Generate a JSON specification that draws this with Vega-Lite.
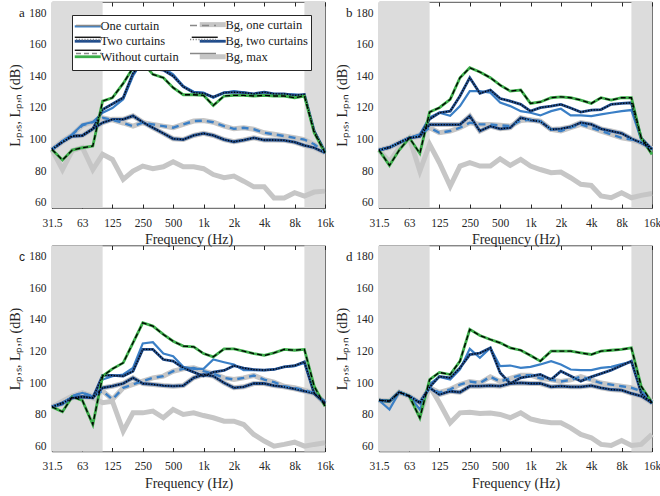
{
"$schema":"https://vega.github.io/schema/vega-lite/v6.json",
"padding":{"left":8,"top":1,"right":5,"bottom":5},
"config":{
"font":"Liberation Serif",
"view":{"stroke":"#262626","strokeWidth":0.8},
"axis":{"grid":false,"domain":false,"labelFont":"Liberation Serif","labelFontSize":11.5,"labelColor":"#262626","tickColor":"#262626","tickSize":-4,"labelPadding":10,"titleFont":"Liberation Serif","titleFontSize":14,"titleFontWeight":"normal","titleColor":"#262626"},
"axisX":{"labelPadding":13,"titlePadding":4},
"axisY":{"titlePadding":6}
},
"datasets":{"d":[
{"p":"a","s":"O","f":31.5,"v":93.7},{"p":"a","s":"O","f":40,"v":99},{"p":"a","s":"O","f":50,"v":103.3},{"p":"a","s":"O","f":63,"v":109.6},{"p":"a","s":"O","f":80,"v":111.1},{"p":"a","s":"O","f":100,"v":117},{"p":"a","s":"O","f":125,"v":120},{"p":"a","s":"O","f":160,"v":125.5},{"p":"a","s":"O","f":200,"v":140.3},{"p":"a","s":"O","f":250,"v":150.4},{"p":"a","s":"O","f":315,"v":146.2},{"p":"a","s":"O","f":400,"v":145.5},{"p":"a","s":"O","f":500,"v":141.3},{"p":"a","s":"O","f":630,"v":133.9},{"p":"a","s":"O","f":800,"v":130.3},{"p":"a","s":"O","f":1000,"v":129.7},{"p":"a","s":"O","f":1250,"v":126.5},{"p":"a","s":"O","f":1600,"v":129.7},{"p":"a","s":"O","f":2000,"v":130.7},{"p":"a","s":"O","f":2500,"v":130},{"p":"a","s":"O","f":3150,"v":128.6},{"p":"a","s":"O","f":4000,"v":130},{"p":"a","s":"O","f":5000,"v":128.6},{"p":"a","s":"O","f":6300,"v":128.6},{"p":"a","s":"O","f":8000,"v":128.6},{"p":"a","s":"O","f":10000,"v":127.6},{"p":"a","s":"O","f":12500,"v":105.4},{"p":"a","s":"O","f":16000,"v":92.7},
{"p":"a","s":"T","f":31.5,"v":93.7},{"p":"a","s":"T","f":40,"v":98.5},{"p":"a","s":"T","f":50,"v":102.2},{"p":"a","s":"T","f":63,"v":102.5},{"p":"a","s":"T","f":80,"v":106.8},{"p":"a","s":"T","f":100,"v":119},{"p":"a","s":"T","f":125,"v":122.5},{"p":"a","s":"T","f":160,"v":126.5},{"p":"a","s":"T","f":200,"v":141.9},{"p":"a","s":"T","f":250,"v":148.7},{"p":"a","s":"T","f":315,"v":144.9},{"p":"a","s":"T","f":400,"v":144},{"p":"a","s":"T","f":500,"v":140.3},{"p":"a","s":"T","f":630,"v":133.5},{"p":"a","s":"T","f":800,"v":129.7},{"p":"a","s":"T","f":1000,"v":129.3},{"p":"a","s":"T","f":1250,"v":127},{"p":"a","s":"T","f":1600,"v":129.7},{"p":"a","s":"T","f":2000,"v":130},{"p":"a","s":"T","f":2500,"v":129.7},{"p":"a","s":"T","f":3150,"v":129},{"p":"a","s":"T","f":4000,"v":130},{"p":"a","s":"T","f":5000,"v":129},{"p":"a","s":"T","f":6300,"v":129},{"p":"a","s":"T","f":8000,"v":128},{"p":"a","s":"T","f":10000,"v":128.6},{"p":"a","s":"T","f":12500,"v":105.4},{"p":"a","s":"T","f":16000,"v":92},
{"p":"a","s":"W","f":31.5,"v":93.7},{"p":"a","s":"W","f":40,"v":87},{"p":"a","s":"W","f":50,"v":93.3},{"p":"a","s":"W","f":63,"v":94.8},{"p":"a","s":"W","f":80,"v":95.9},{"p":"a","s":"W","f":100,"v":124.4},{"p":"a","s":"W","f":125,"v":126.5},{"p":"a","s":"W","f":160,"v":135.6},{"p":"a","s":"W","f":200,"v":145.5},{"p":"a","s":"W","f":250,"v":148.7},{"p":"a","s":"W","f":315,"v":141.3},{"p":"a","s":"W","f":400,"v":139.2},{"p":"a","s":"W","f":500,"v":132.9},{"p":"a","s":"W","f":630,"v":128.4},{"p":"a","s":"W","f":800,"v":128.4},{"p":"a","s":"W","f":1000,"v":128},{"p":"a","s":"W","f":1250,"v":121.6},{"p":"a","s":"W","f":1600,"v":127.6},{"p":"a","s":"W","f":2000,"v":128},{"p":"a","s":"W","f":2500,"v":128},{"p":"a","s":"W","f":3150,"v":127.6},{"p":"a","s":"W","f":4000,"v":128},{"p":"a","s":"W","f":5000,"v":127.6},{"p":"a","s":"W","f":6300,"v":127.6},{"p":"a","s":"W","f":8000,"v":126.5},{"p":"a","s":"W","f":10000,"v":127.6},{"p":"a","s":"W","f":12500,"v":104.3},{"p":"a","s":"W","f":16000,"v":91.6},
{"p":"a","s":"BO","f":31.5,"v":93.7},{"p":"a","s":"BO","f":40,"v":99},{"p":"a","s":"BO","f":50,"v":103},{"p":"a","s":"BO","f":63,"v":109},{"p":"a","s":"BO","f":80,"v":111},{"p":"a","s":"BO","f":100,"v":113.8},{"p":"a","s":"BO","f":125,"v":112.5},{"p":"a","s":"BO","f":160,"v":110.5},{"p":"a","s":"BO","f":200,"v":108.5},{"p":"a","s":"BO","f":250,"v":110.7},{"p":"a","s":"BO","f":315,"v":109.6},{"p":"a","s":"BO","f":400,"v":108.5},{"p":"a","s":"BO","f":500,"v":107.5},{"p":"a","s":"BO","f":630,"v":109.6},{"p":"a","s":"BO","f":800,"v":111.7},{"p":"a","s":"BO","f":1000,"v":112},{"p":"a","s":"BO","f":1250,"v":111},{"p":"a","s":"BO","f":1600,"v":108.5},{"p":"a","s":"BO","f":2000,"v":106.8},{"p":"a","s":"BO","f":2500,"v":107.5},{"p":"a","s":"BO","f":3150,"v":106.5},{"p":"a","s":"BO","f":4000,"v":104.3},{"p":"a","s":"BO","f":5000,"v":103.3},{"p":"a","s":"BO","f":6300,"v":102.2},{"p":"a","s":"BO","f":8000,"v":101.1},{"p":"a","s":"BO","f":10000,"v":100},{"p":"a","s":"BO","f":12500,"v":97},{"p":"a","s":"BO","f":16000,"v":91.6},
{"p":"a","s":"BT","f":31.5,"v":93.7},{"p":"a","s":"BT","f":40,"v":98.5},{"p":"a","s":"BT","f":50,"v":102.2},{"p":"a","s":"BT","f":63,"v":102.5},{"p":"a","s":"BT","f":80,"v":106.8},{"p":"a","s":"BT","f":100,"v":110.7},{"p":"a","s":"BT","f":125,"v":112.8},{"p":"a","s":"BT","f":160,"v":112.8},{"p":"a","s":"BT","f":200,"v":115},{"p":"a","s":"BT","f":250,"v":111},{"p":"a","s":"BT","f":315,"v":107.5},{"p":"a","s":"BT","f":400,"v":103.9},{"p":"a","s":"BT","f":500,"v":100.5},{"p":"a","s":"BT","f":630,"v":100},{"p":"a","s":"BT","f":800,"v":102.6},{"p":"a","s":"BT","f":1000,"v":103.9},{"p":"a","s":"BT","f":1250,"v":102.6},{"p":"a","s":"BT","f":1600,"v":100},{"p":"a","s":"BT","f":2000,"v":98.6},{"p":"a","s":"BT","f":2500,"v":99.7},{"p":"a","s":"BT","f":3150,"v":101.1},{"p":"a","s":"BT","f":4000,"v":99.7},{"p":"a","s":"BT","f":5000,"v":99.7},{"p":"a","s":"BT","f":6300,"v":99.5},{"p":"a","s":"BT","f":8000,"v":98.4},{"p":"a","s":"BT","f":10000,"v":96.3},{"p":"a","s":"BT","f":12500,"v":94.8},{"p":"a","s":"BT","f":16000,"v":91.6},
{"p":"a","s":"BM","f":31.5,"v":93.7},{"p":"a","s":"BM","f":40,"v":81},{"p":"a","s":"BM","f":50,"v":93},{"p":"a","s":"BM","f":63,"v":95},{"p":"a","s":"BM","f":80,"v":81},{"p":"a","s":"BM","f":100,"v":90.6},{"p":"a","s":"BM","f":125,"v":87.4},{"p":"a","s":"BM","f":160,"v":74.7},{"p":"a","s":"BM","f":200,"v":80},{"p":"a","s":"BM","f":250,"v":83.2},{"p":"a","s":"BM","f":315,"v":81.5},{"p":"a","s":"BM","f":400,"v":82.7},{"p":"a","s":"BM","f":500,"v":85.9},{"p":"a","s":"BM","f":630,"v":82.7},{"p":"a","s":"BM","f":800,"v":82.7},{"p":"a","s":"BM","f":1000,"v":81.5},{"p":"a","s":"BM","f":1250,"v":77.8},{"p":"a","s":"BM","f":1600,"v":75.8},{"p":"a","s":"BM","f":2000,"v":76.8},{"p":"a","s":"BM","f":2500,"v":73.6},{"p":"a","s":"BM","f":3150,"v":70},{"p":"a","s":"BM","f":4000,"v":70},{"p":"a","s":"BM","f":5000,"v":63},{"p":"a","s":"BM","f":6300,"v":63},{"p":"a","s":"BM","f":8000,"v":66.3},{"p":"a","s":"BM","f":10000,"v":64.2},{"p":"a","s":"BM","f":12500,"v":66.7},{"p":"a","s":"BM","f":16000,"v":67.3},
{"p":"b","s":"O","f":31.5,"v":93.3},{"p":"b","s":"O","f":40,"v":95},{"p":"b","s":"O","f":50,"v":98},{"p":"b","s":"O","f":63,"v":101},{"p":"b","s":"O","f":80,"v":103.3},{"p":"b","s":"O","f":100,"v":114},{"p":"b","s":"O","f":125,"v":117},{"p":"b","s":"O","f":160,"v":115},{"p":"b","s":"O","f":200,"v":121.2},{"p":"b","s":"O","f":250,"v":130.7},{"p":"b","s":"O","f":315,"v":130.7},{"p":"b","s":"O","f":400,"v":129.7},{"p":"b","s":"O","f":500,"v":123.5},{"p":"b","s":"O","f":630,"v":121.2},{"p":"b","s":"O","f":800,"v":118},{"p":"b","s":"O","f":1000,"v":117},{"p":"b","s":"O","f":1250,"v":115.3},{"p":"b","s":"O","f":1600,"v":118},{"p":"b","s":"O","f":2000,"v":119.5},{"p":"b","s":"O","f":2500,"v":115.3},{"p":"b","s":"O","f":3150,"v":115.3},{"p":"b","s":"O","f":4000,"v":114.9},{"p":"b","s":"O","f":5000,"v":116},{"p":"b","s":"O","f":6300,"v":117},{"p":"b","s":"O","f":8000,"v":118},{"p":"b","s":"O","f":10000,"v":118.7},{"p":"b","s":"O","f":12500,"v":100},{"p":"b","s":"O","f":16000,"v":93.5},
{"p":"b","s":"T","f":31.5,"v":93.3},{"p":"b","s":"T","f":40,"v":95},{"p":"b","s":"T","f":50,"v":98},{"p":"b","s":"T","f":63,"v":101},{"p":"b","s":"T","f":80,"v":102.2},{"p":"b","s":"T","f":100,"v":113},{"p":"b","s":"T","f":125,"v":117},{"p":"b","s":"T","f":160,"v":118},{"p":"b","s":"T","f":200,"v":127.6},{"p":"b","s":"T","f":250,"v":139.2},{"p":"b","s":"T","f":315,"v":129.3},{"p":"b","s":"T","f":400,"v":131.4},{"p":"b","s":"T","f":500,"v":126},{"p":"b","s":"T","f":630,"v":124.4},{"p":"b","s":"T","f":800,"v":122.3},{"p":"b","s":"T","f":1000,"v":118},{"p":"b","s":"T","f":1250,"v":120.2},{"p":"b","s":"T","f":1600,"v":121.2},{"p":"b","s":"T","f":2000,"v":122.3},{"p":"b","s":"T","f":2500,"v":120},{"p":"b","s":"T","f":3150,"v":117.4},{"p":"b","s":"T","f":4000,"v":118.7},{"p":"b","s":"T","f":5000,"v":119},{"p":"b","s":"T","f":6300,"v":122.3},{"p":"b","s":"T","f":8000,"v":122.9},{"p":"b","s":"T","f":10000,"v":123.3},{"p":"b","s":"T","f":12500,"v":101},{"p":"b","s":"T","f":16000,"v":93.7},
{"p":"b","s":"W","f":31.5,"v":93.3},{"p":"b","s":"W","f":40,"v":83.6},{"p":"b","s":"W","f":50,"v":93.3},{"p":"b","s":"W","f":63,"v":101.1},{"p":"b","s":"W","f":80,"v":91.2},{"p":"b","s":"W","f":100,"v":117.4},{"p":"b","s":"W","f":125,"v":120.2},{"p":"b","s":"W","f":160,"v":125.5},{"p":"b","s":"W","f":200,"v":139.2},{"p":"b","s":"W","f":250,"v":145.5},{"p":"b","s":"W","f":315,"v":142.8},{"p":"b","s":"W","f":400,"v":139.2},{"p":"b","s":"W","f":500,"v":134.5},{"p":"b","s":"W","f":630,"v":130.7},{"p":"b","s":"W","f":800,"v":131.4},{"p":"b","s":"W","f":1000,"v":122.9},{"p":"b","s":"W","f":1250,"v":123.8},{"p":"b","s":"W","f":1600,"v":126.5},{"p":"b","s":"W","f":2000,"v":127.1},{"p":"b","s":"W","f":2500,"v":126.5},{"p":"b","s":"W","f":3150,"v":125},{"p":"b","s":"W","f":4000,"v":122.9},{"p":"b","s":"W","f":5000,"v":126.5},{"p":"b","s":"W","f":6300,"v":125},{"p":"b","s":"W","f":8000,"v":126.5},{"p":"b","s":"W","f":10000,"v":126.5},{"p":"b","s":"W","f":12500,"v":101},{"p":"b","s":"W","f":16000,"v":90.6},
{"p":"b","s":"BO","f":31.5,"v":93.3},{"p":"b","s":"BO","f":40,"v":95},{"p":"b","s":"BO","f":50,"v":98},{"p":"b","s":"BO","f":63,"v":101},{"p":"b","s":"BO","f":80,"v":103},{"p":"b","s":"BO","f":100,"v":107.5},{"p":"b","s":"BO","f":125,"v":104.3},{"p":"b","s":"BO","f":160,"v":105.4},{"p":"b","s":"BO","f":200,"v":107.5},{"p":"b","s":"BO","f":250,"v":110.7},{"p":"b","s":"BO","f":315,"v":109.6},{"p":"b","s":"BO","f":400,"v":109.6},{"p":"b","s":"BO","f":500,"v":109},{"p":"b","s":"BO","f":630,"v":108.5},{"p":"b","s":"BO","f":800,"v":112},{"p":"b","s":"BO","f":1000,"v":112.5},{"p":"b","s":"BO","f":1250,"v":111.7},{"p":"b","s":"BO","f":1600,"v":106.4},{"p":"b","s":"BO","f":2000,"v":105.4},{"p":"b","s":"BO","f":2500,"v":107.5},{"p":"b","s":"BO","f":3150,"v":109.6},{"p":"b","s":"BO","f":4000,"v":107.5},{"p":"b","s":"BO","f":5000,"v":105.4},{"p":"b","s":"BO","f":6300,"v":103.3},{"p":"b","s":"BO","f":8000,"v":101.1},{"p":"b","s":"BO","f":10000,"v":100},{"p":"b","s":"BO","f":12500,"v":98},{"p":"b","s":"BO","f":16000,"v":94.2},
{"p":"b","s":"BT","f":31.5,"v":93.3},{"p":"b","s":"BT","f":40,"v":95},{"p":"b","s":"BT","f":50,"v":98},{"p":"b","s":"BT","f":63,"v":101},{"p":"b","s":"BT","f":80,"v":102},{"p":"b","s":"BT","f":100,"v":109.5},{"p":"b","s":"BT","f":125,"v":109.5},{"p":"b","s":"BT","f":160,"v":109.5},{"p":"b","s":"BT","f":200,"v":109.5},{"p":"b","s":"BT","f":250,"v":114.9},{"p":"b","s":"BT","f":315,"v":105.4},{"p":"b","s":"BT","f":400,"v":108.5},{"p":"b","s":"BT","f":500,"v":106.8},{"p":"b","s":"BT","f":630,"v":107.5},{"p":"b","s":"BT","f":800,"v":113.8},{"p":"b","s":"BT","f":1000,"v":112.3},{"p":"b","s":"BT","f":1250,"v":111.5},{"p":"b","s":"BT","f":1600,"v":106.4},{"p":"b","s":"BT","f":2000,"v":106.8},{"p":"b","s":"BT","f":2500,"v":108},{"p":"b","s":"BT","f":3150,"v":110.7},{"p":"b","s":"BT","f":4000,"v":109.6},{"p":"b","s":"BT","f":5000,"v":106.8},{"p":"b","s":"BT","f":6300,"v":105.4},{"p":"b","s":"BT","f":8000,"v":103.9},{"p":"b","s":"BT","f":10000,"v":100.5},{"p":"b","s":"BT","f":12500,"v":98},{"p":"b","s":"BT","f":16000,"v":94.2},
{"p":"b","s":"BM","f":31.5,"v":93.3},{"p":"b","s":"BM","f":40,"v":86},{"p":"b","s":"BM","f":50,"v":94.8},{"p":"b","s":"BM","f":63,"v":101},{"p":"b","s":"BM","f":80,"v":80},{"p":"b","s":"BM","f":100,"v":96.9},{"p":"b","s":"BM","f":125,"v":85.3},{"p":"b","s":"BM","f":160,"v":70.5},{"p":"b","s":"BM","f":200,"v":83.2},{"p":"b","s":"BM","f":250,"v":85.3},{"p":"b","s":"BM","f":315,"v":83.2},{"p":"b","s":"BM","f":400,"v":83.2},{"p":"b","s":"BM","f":500,"v":87.8},{"p":"b","s":"BM","f":630,"v":83.6},{"p":"b","s":"BM","f":800,"v":87.4},{"p":"b","s":"BM","f":1000,"v":83.2},{"p":"b","s":"BM","f":1250,"v":81},{"p":"b","s":"BM","f":1600,"v":79},{"p":"b","s":"BM","f":2000,"v":79.4},{"p":"b","s":"BM","f":2500,"v":75.8},{"p":"b","s":"BM","f":3150,"v":71.6},{"p":"b","s":"BM","f":4000,"v":70.9},{"p":"b","s":"BM","f":5000,"v":64.2},{"p":"b","s":"BM","f":6300,"v":63.1},{"p":"b","s":"BM","f":8000,"v":66.3},{"p":"b","s":"BM","f":10000,"v":63.1},{"p":"b","s":"BM","f":12500,"v":64.6},{"p":"b","s":"BM","f":16000,"v":65.8},
{"p":"c","s":"O","f":31.5,"v":84.9},{"p":"c","s":"O","f":40,"v":86.4},{"p":"c","s":"O","f":50,"v":91.7},{"p":"c","s":"O","f":63,"v":93.8},{"p":"c","s":"O","f":80,"v":91.3},{"p":"c","s":"O","f":100,"v":102.2},{"p":"c","s":"O","f":125,"v":104.4},{"p":"c","s":"O","f":160,"v":105.4},{"p":"c","s":"O","f":200,"v":109.6},{"p":"c","s":"O","f":250,"v":125.1},{"p":"c","s":"O","f":315,"v":125.9},{"p":"c","s":"O","f":400,"v":118.7},{"p":"c","s":"O","f":500,"v":117},{"p":"c","s":"O","f":630,"v":110.3},{"p":"c","s":"O","f":800,"v":109},{"p":"c","s":"O","f":1000,"v":109},{"p":"c","s":"O","f":1250,"v":114.9},{"p":"c","s":"O","f":1600,"v":113.2},{"p":"c","s":"O","f":2000,"v":111.8},{"p":"c","s":"O","f":2500,"v":108.2},{"p":"c","s":"O","f":3150,"v":108.2},{"p":"c","s":"O","f":4000,"v":108.2},{"p":"c","s":"O","f":5000,"v":108.6},{"p":"c","s":"O","f":6300,"v":110.3},{"p":"c","s":"O","f":8000,"v":110.7},{"p":"c","s":"O","f":10000,"v":112.8},{"p":"c","s":"O","f":12500,"v":93.8},{"p":"c","s":"O","f":16000,"v":88.5},
{"p":"c","s":"T","f":31.5,"v":84.9},{"p":"c","s":"T","f":40,"v":87.5},{"p":"c","s":"T","f":50,"v":90.6},{"p":"c","s":"T","f":63,"v":91.3},{"p":"c","s":"T","f":80,"v":90.6},{"p":"c","s":"T","f":100,"v":104.8},{"p":"c","s":"T","f":125,"v":104.8},{"p":"c","s":"T","f":160,"v":104.4},{"p":"c","s":"T","f":200,"v":107.5},{"p":"c","s":"T","f":250,"v":121.3},{"p":"c","s":"T","f":315,"v":121.3},{"p":"c","s":"T","f":400,"v":114.9},{"p":"c","s":"T","f":500,"v":113.9},{"p":"c","s":"T","f":630,"v":109.6},{"p":"c","s":"T","f":800,"v":106.9},{"p":"c","s":"T","f":1000,"v":104.4},{"p":"c","s":"T","f":1250,"v":106.9},{"p":"c","s":"T","f":1600,"v":108},{"p":"c","s":"T","f":2000,"v":111},{"p":"c","s":"T","f":2500,"v":109.5},{"p":"c","s":"T","f":3150,"v":108.5},{"p":"c","s":"T","f":4000,"v":108.2},{"p":"c","s":"T","f":5000,"v":108.6},{"p":"c","s":"T","f":6300,"v":110.3},{"p":"c","s":"T","f":8000,"v":111},{"p":"c","s":"T","f":10000,"v":113.5},{"p":"c","s":"T","f":12500,"v":93.4},{"p":"c","s":"T","f":16000,"v":87.5},
{"p":"c","s":"W","f":31.5,"v":84.9},{"p":"c","s":"W","f":40,"v":81.8},{"p":"c","s":"W","f":50,"v":91.3},{"p":"c","s":"W","f":63,"v":89},{"p":"c","s":"W","f":80,"v":73.7},{"p":"c","s":"W","f":100,"v":104.4},{"p":"c","s":"W","f":125,"v":109},{"p":"c","s":"W","f":160,"v":112.8},{"p":"c","s":"W","f":200,"v":125.5},{"p":"c","s":"W","f":250,"v":138.2},{"p":"c","s":"W","f":315,"v":136.1},{"p":"c","s":"W","f":400,"v":130.8},{"p":"c","s":"W","f":500,"v":126.5},{"p":"c","s":"W","f":630,"v":123.4},{"p":"c","s":"W","f":800,"v":123},{"p":"c","s":"W","f":1000,"v":118.7},{"p":"c","s":"W","f":1250,"v":116.6},{"p":"c","s":"W","f":1600,"v":121.7},{"p":"c","s":"W","f":2000,"v":121.7},{"p":"c","s":"W","f":2500,"v":120.2},{"p":"c","s":"W","f":3150,"v":118.7},{"p":"c","s":"W","f":4000,"v":117.5},{"p":"c","s":"W","f":5000,"v":119.1},{"p":"c","s":"W","f":6300,"v":121.3},{"p":"c","s":"W","f":8000,"v":120.8},{"p":"c","s":"W","f":10000,"v":121.3},{"p":"c","s":"W","f":12500,"v":98},{"p":"c","s":"W","f":16000,"v":85.3},
{"p":"c","s":"BO","f":31.5,"v":84.9},{"p":"c","s":"BO","f":40,"v":87},{"p":"c","s":"BO","f":50,"v":91.7},{"p":"c","s":"BO","f":63,"v":93.8},{"p":"c","s":"BO","f":80,"v":91.7},{"p":"c","s":"BO","f":100,"v":95},{"p":"c","s":"BO","f":125,"v":89.6},{"p":"c","s":"BO","f":160,"v":97},{"p":"c","s":"BO","f":200,"v":99.1},{"p":"c","s":"BO","f":250,"v":101.2},{"p":"c","s":"BO","f":315,"v":103.3},{"p":"c","s":"BO","f":400,"v":104.4},{"p":"c","s":"BO","f":500,"v":107.5},{"p":"c","s":"BO","f":630,"v":109},{"p":"c","s":"BO","f":800,"v":109.6},{"p":"c","s":"BO","f":1000,"v":107.5},{"p":"c","s":"BO","f":1250,"v":106},{"p":"c","s":"BO","f":1600,"v":103.3},{"p":"c","s":"BO","f":2000,"v":102.2},{"p":"c","s":"BO","f":2500,"v":103.3},{"p":"c","s":"BO","f":3150,"v":104.8},{"p":"c","s":"BO","f":4000,"v":102.2},{"p":"c","s":"BO","f":5000,"v":100.6},{"p":"c","s":"BO","f":6300,"v":98},{"p":"c","s":"BO","f":8000,"v":97},{"p":"c","s":"BO","f":10000,"v":95.5},{"p":"c","s":"BO","f":12500,"v":93.8},{"p":"c","s":"BO","f":16000,"v":87.5},
{"p":"c","s":"BT","f":31.5,"v":84.9},{"p":"c","s":"BT","f":40,"v":87},{"p":"c","s":"BT","f":50,"v":90.6},{"p":"c","s":"BT","f":63,"v":91.3},{"p":"c","s":"BT","f":80,"v":90.6},{"p":"c","s":"BT","f":100,"v":97},{"p":"c","s":"BT","f":125,"v":98},{"p":"c","s":"BT","f":160,"v":99.7},{"p":"c","s":"BT","f":200,"v":103.3},{"p":"c","s":"BT","f":250,"v":99.7},{"p":"c","s":"BT","f":315,"v":99.1},{"p":"c","s":"BT","f":400,"v":98.4},{"p":"c","s":"BT","f":500,"v":98},{"p":"c","s":"BT","f":630,"v":98.4},{"p":"c","s":"BT","f":800,"v":103.3},{"p":"c","s":"BT","f":1000,"v":105.4},{"p":"c","s":"BT","f":1250,"v":104.4},{"p":"c","s":"BT","f":1600,"v":100.1},{"p":"c","s":"BT","f":2000,"v":97},{"p":"c","s":"BT","f":2500,"v":97.6},{"p":"c","s":"BT","f":3150,"v":99.7},{"p":"c","s":"BT","f":4000,"v":99.7},{"p":"c","s":"BT","f":5000,"v":98.4},{"p":"c","s":"BT","f":6300,"v":97.6},{"p":"c","s":"BT","f":8000,"v":96.3},{"p":"c","s":"BT","f":10000,"v":94.9},{"p":"c","s":"BT","f":12500,"v":93.4},{"p":"c","s":"BT","f":16000,"v":87},
{"p":"c","s":"BM","f":31.5,"v":84.9},{"p":"c","s":"BM","f":40,"v":88.5},{"p":"c","s":"BM","f":50,"v":91.7},{"p":"c","s":"BM","f":63,"v":93.8},{"p":"c","s":"BM","f":80,"v":90.6},{"p":"c","s":"BM","f":100,"v":87.5},{"p":"c","s":"BM","f":125,"v":88.5},{"p":"c","s":"BM","f":160,"v":69.5},{"p":"c","s":"BM","f":200,"v":81.1},{"p":"c","s":"BM","f":250,"v":81.1},{"p":"c","s":"BM","f":315,"v":82.2},{"p":"c","s":"BM","f":400,"v":78},{"p":"c","s":"BM","f":500,"v":83.2},{"p":"c","s":"BM","f":630,"v":80.1},{"p":"c","s":"BM","f":800,"v":81.1},{"p":"c","s":"BM","f":1000,"v":79.4},{"p":"c","s":"BM","f":1250,"v":78},{"p":"c","s":"BM","f":1600,"v":75.8},{"p":"c","s":"BM","f":2000,"v":75.8},{"p":"c","s":"BM","f":2500,"v":73.7},{"p":"c","s":"BM","f":3150,"v":67.4},{"p":"c","s":"BM","f":4000,"v":63.2},{"p":"c","s":"BM","f":5000,"v":60},{"p":"c","s":"BM","f":6300,"v":61.1},{"p":"c","s":"BM","f":8000,"v":62.5},{"p":"c","s":"BM","f":10000,"v":60},{"p":"c","s":"BM","f":12500,"v":61.1},{"p":"c","s":"BM","f":16000,"v":62.1},
{"p":"d","s":"O","f":31.5,"v":89.1},{"p":"d","s":"O","f":40,"v":83.2},{"p":"d","s":"O","f":50,"v":94.2},{"p":"d","s":"O","f":63,"v":91.7},{"p":"d","s":"O","f":80,"v":83.2},{"p":"d","s":"O","f":100,"v":99.5},{"p":"d","s":"O","f":125,"v":103.9},{"p":"d","s":"O","f":160,"v":102.2},{"p":"d","s":"O","f":200,"v":108.6},{"p":"d","s":"O","f":250,"v":121.7},{"p":"d","s":"O","f":315,"v":116},{"p":"d","s":"O","f":400,"v":122.3},{"p":"d","s":"O","f":500,"v":110.7},{"p":"d","s":"O","f":630,"v":111.1},{"p":"d","s":"O","f":800,"v":109.6},{"p":"d","s":"O","f":1000,"v":110.3},{"p":"d","s":"O","f":1250,"v":111.8},{"p":"d","s":"O","f":1600,"v":113.9},{"p":"d","s":"O","f":2000,"v":111.8},{"p":"d","s":"O","f":2500,"v":108.6},{"p":"d","s":"O","f":3150,"v":108.2},{"p":"d","s":"O","f":4000,"v":108.2},{"p":"d","s":"O","f":5000,"v":109.6},{"p":"d","s":"O","f":6300,"v":110.3},{"p":"d","s":"O","f":8000,"v":112},{"p":"d","s":"O","f":10000,"v":113.5},{"p":"d","s":"O","f":12500,"v":94.9},{"p":"d","s":"O","f":16000,"v":87.5},
{"p":"d","s":"T","f":31.5,"v":89.1},{"p":"d","s":"T","f":40,"v":88.5},{"p":"d","s":"T","f":50,"v":94.2},{"p":"d","s":"T","f":63,"v":91.7},{"p":"d","s":"T","f":80,"v":87.5},{"p":"d","s":"T","f":100,"v":97.5},{"p":"d","s":"T","f":125,"v":104.2},{"p":"d","s":"T","f":160,"v":103.3},{"p":"d","s":"T","f":200,"v":109.6},{"p":"d","s":"T","f":250,"v":118},{"p":"d","s":"T","f":315,"v":119},{"p":"d","s":"T","f":400,"v":122.3},{"p":"d","s":"T","f":500,"v":106.5},{"p":"d","s":"T","f":630,"v":99.7},{"p":"d","s":"T","f":800,"v":103.3},{"p":"d","s":"T","f":1000,"v":104.4},{"p":"d","s":"T","f":1250,"v":105.4},{"p":"d","s":"T","f":1600,"v":102.2},{"p":"d","s":"T","f":2000,"v":107.5},{"p":"d","s":"T","f":2500,"v":104.4},{"p":"d","s":"T","f":3150,"v":101.2},{"p":"d","s":"T","f":4000,"v":103.9},{"p":"d","s":"T","f":5000,"v":106},{"p":"d","s":"T","f":6300,"v":108.2},{"p":"d","s":"T","f":8000,"v":111.1},{"p":"d","s":"T","f":10000,"v":113.9},{"p":"d","s":"T","f":12500,"v":93.8},{"p":"d","s":"T","f":16000,"v":87},
{"p":"d","s":"W","f":31.5,"v":89.1},{"p":"d","s":"W","f":40,"v":88.5},{"p":"d","s":"W","f":50,"v":94.2},{"p":"d","s":"W","f":63,"v":91.7},{"p":"d","s":"W","f":80,"v":77.9},{"p":"d","s":"W","f":100,"v":102.2},{"p":"d","s":"W","f":125,"v":106.7},{"p":"d","s":"W","f":160,"v":105.4},{"p":"d","s":"W","f":200,"v":113.9},{"p":"d","s":"W","f":250,"v":134},{"p":"d","s":"W","f":315,"v":130.1},{"p":"d","s":"W","f":400,"v":127.6},{"p":"d","s":"W","f":500,"v":125.5},{"p":"d","s":"W","f":630,"v":122.3},{"p":"d","s":"W","f":800,"v":120.8},{"p":"d","s":"W","f":1000,"v":117.5},{"p":"d","s":"W","f":1250,"v":113.9},{"p":"d","s":"W","f":1600,"v":120.2},{"p":"d","s":"W","f":2000,"v":120.2},{"p":"d","s":"W","f":2500,"v":120.2},{"p":"d","s":"W","f":3150,"v":119.1},{"p":"d","s":"W","f":4000,"v":118.1},{"p":"d","s":"W","f":5000,"v":120.2},{"p":"d","s":"W","f":6300,"v":120.8},{"p":"d","s":"W","f":8000,"v":121.3},{"p":"d","s":"W","f":10000,"v":122.3},{"p":"d","s":"W","f":12500,"v":98},{"p":"d","s":"W","f":16000,"v":87.5},
{"p":"d","s":"BO","f":31.5,"v":89.1},{"p":"d","s":"BO","f":40,"v":88.5},{"p":"d","s":"BO","f":50,"v":94.2},{"p":"d","s":"BO","f":63,"v":91.7},{"p":"d","s":"BO","f":80,"v":87.5},{"p":"d","s":"BO","f":100,"v":97},{"p":"d","s":"BO","f":125,"v":94},{"p":"d","s":"BO","f":160,"v":96},{"p":"d","s":"BO","f":200,"v":99},{"p":"d","s":"BO","f":250,"v":101},{"p":"d","s":"BO","f":315,"v":100},{"p":"d","s":"BO","f":400,"v":104},{"p":"d","s":"BO","f":500,"v":101},{"p":"d","s":"BO","f":630,"v":103},{"p":"d","s":"BO","f":800,"v":105},{"p":"d","s":"BO","f":1000,"v":105},{"p":"d","s":"BO","f":1250,"v":103},{"p":"d","s":"BO","f":1600,"v":102},{"p":"d","s":"BO","f":2000,"v":101},{"p":"d","s":"BO","f":2500,"v":102},{"p":"d","s":"BO","f":3150,"v":104},{"p":"d","s":"BO","f":4000,"v":102},{"p":"d","s":"BO","f":5000,"v":100},{"p":"d","s":"BO","f":6300,"v":99},{"p":"d","s":"BO","f":8000,"v":98},{"p":"d","s":"BO","f":10000,"v":97},{"p":"d","s":"BO","f":12500,"v":95},{"p":"d","s":"BO","f":16000,"v":88},
{"p":"d","s":"BT","f":31.5,"v":89.1},{"p":"d","s":"BT","f":40,"v":88.5},{"p":"d","s":"BT","f":50,"v":94.2},{"p":"d","s":"BT","f":63,"v":91.7},{"p":"d","s":"BT","f":80,"v":87.5},{"p":"d","s":"BT","f":100,"v":97},{"p":"d","s":"BT","f":125,"v":92.7},{"p":"d","s":"BT","f":160,"v":94.8},{"p":"d","s":"BT","f":200,"v":94.2},{"p":"d","s":"BT","f":250,"v":98},{"p":"d","s":"BT","f":315,"v":98},{"p":"d","s":"BT","f":400,"v":98.4},{"p":"d","s":"BT","f":500,"v":98},{"p":"d","s":"BT","f":630,"v":99.7},{"p":"d","s":"BT","f":800,"v":100.1},{"p":"d","s":"BT","f":1000,"v":99.7},{"p":"d","s":"BT","f":1250,"v":99.7},{"p":"d","s":"BT","f":1600,"v":97.6},{"p":"d","s":"BT","f":2000,"v":98},{"p":"d","s":"BT","f":2500,"v":97.6},{"p":"d","s":"BT","f":3150,"v":97.6},{"p":"d","s":"BT","f":4000,"v":98.4},{"p":"d","s":"BT","f":5000,"v":97},{"p":"d","s":"BT","f":6300,"v":95.9},{"p":"d","s":"BT","f":8000,"v":95.5},{"p":"d","s":"BT","f":10000,"v":93.4},{"p":"d","s":"BT","f":12500,"v":91.7},{"p":"d","s":"BT","f":16000,"v":87.5},
{"p":"d","s":"BM","f":31.5,"v":89.1},{"p":"d","s":"BM","f":40,"v":86},{"p":"d","s":"BM","f":50,"v":94.2},{"p":"d","s":"BM","f":63,"v":91.7},{"p":"d","s":"BM","f":80,"v":80},{"p":"d","s":"BM","f":100,"v":98},{"p":"d","s":"BM","f":125,"v":87.5},{"p":"d","s":"BM","f":160,"v":74.8},{"p":"d","s":"BM","f":200,"v":81.1},{"p":"d","s":"BM","f":250,"v":81.5},{"p":"d","s":"BM","f":315,"v":80.7},{"p":"d","s":"BM","f":400,"v":81},{"p":"d","s":"BM","f":500,"v":80.1},{"p":"d","s":"BM","f":630,"v":78},{"p":"d","s":"BM","f":800,"v":81.1},{"p":"d","s":"BM","f":1000,"v":77.3},{"p":"d","s":"BM","f":1250,"v":75.8},{"p":"d","s":"BM","f":1600,"v":74.8},{"p":"d","s":"BM","f":2000,"v":74.8},{"p":"d","s":"BM","f":2500,"v":71.6},{"p":"d","s":"BM","f":3150,"v":67.4},{"p":"d","s":"BM","f":4000,"v":65.3},{"p":"d","s":"BM","f":5000,"v":61.1},{"p":"d","s":"BM","f":6300,"v":60.4},{"p":"d","s":"BM","f":8000,"v":63.6},{"p":"d","s":"BM","f":10000,"v":60.4},{"p":"d","s":"BM","f":12500,"v":61.1},{"p":"d","s":"BM","f":16000,"v":67.4}
]},
"data":{"name":"d"},
"columns":2,
"bounds":"flush",
"spacing":{"row":37.5,"column":54},
"concat":[
{"width":273,"height":206,
"layer":[
{"data":{"values":[{"x1":31.5,"x2":100},{"x1":10000,"x2":16000}]},"mark":{"type":"rect","color":"#dcdcdc"},"encoding":{"x":{"field":"x1","type":"quantitative","scale":{"type":"log","domain":[31.5,16000],"nice":false},"axis":{"orient":"top","values":[31.5,63,125,250,500,1000,2000,4000,8000,16000],"labels":false,"title":null}},"x2":{"field":"x2"}}},
{"transform":[{"filter":"datum.p=='a'"}],
"encoding":{"x":{"field":"f","type":"quantitative","scale":{"type":"log","domain":[31.5,16000],"nice":false},"axis":{"orient":"bottom","values":[31.5,63,125,250,500,1000,2000,4000,8000,16000],"labelFlush":false,"labelExpr":"datum.value==31.5?'\u00a0\u00a0\u00a0\u00a0\u00a0\u00a031.5':datum.value>=1000?format(datum.value/1000,'d')+'k':format(datum.value,'~g')","title":"Frequency (Hz)"}},"y":{"field":"v","type":"quantitative","scale":{"domain":[56.6,187.2],"nice":false,"zero":false},"axis":{"values":[60,80,100,120,140,160,180],"title":"Lₚ,ₛ, Lₚ,ₙ (dB)"}}},
"layer":[
{"transform":[{"filter":"datum.s=='BM'||datum.s=='BO'"}],"mark":{"type":"line","strokeWidth":5},"encoding":{"color":{"field":"s","type":"nominal","scale":{"domain":["O","T","W","BO","BT","BM"],"range":["#3a7fc6","#214d8c","#3cae4a","#c6c6c6","#214d8c","#c6c6c6"]},"legend":{"orient":"none","legendX":20,"legendY":13,"direction":"vertical","columns":2,"title":null,"symbolType":"M-1,0H3","symbolSize":169,"labelFont":"Liberation Serif","labelFontSize":12.5,"labelColor":"#1a1a1a","labelOffset":13,"columnPadding":10,"rowPadding":-1.5,"padding":3,"fillColor":"white","strokeColor":"#262626","labelLimit":300,"labelExpr":"datum.value=='O'?'One curtain':datum.value=='T'?'Two curtains':datum.value=='W'?'Without curtain':datum.value=='BO'?'Bg, one curtain':datum.value=='BT'?'Bg, two curtains':'Bg, max'","encode":{"symbols":{"update":{"strokeWidth":{"signal":"datum.value=='BO'||datum.value=='BM'?5:datum.value=='O'?2.2:2.8"}}}}}}}},
{"transform":[{"filter":"datum.s=='BT'"}],"mark":{"type":"line","strokeWidth":5,"color":"#c6c6c6"},"encoding":{}},
{"transform":[{"filter":"datum.s=='O'"}],"mark":{"type":"line","strokeWidth":2.2},"encoding":{"color":{"field":"s","type":"nominal","legend":null}}},
{"transform":[{"filter":"datum.s=='T'||datum.s=='W'||datum.s=='BT'"}],"mark":{"type":"line","strokeWidth":2.8},"encoding":{"color":{"field":"s","type":"nominal","legend":null}}},
{"transform":[{"filter":"datum.s=='BO'"}],"mark":{"type":"line","strokeWidth":2.4,"color":"#3a7fc6","strokeDash":[7,5]},"encoding":{}},
{"mark":{"type":"line","strokeWidth":1.3},"encoding":{"stroke":{"field":"s","type":"nominal","sort":["O","T","W","BO","BT","BM"],"scale":{"range":["transparent","#000000","#000000","transparent","#000000","transparent"]},"legend":{"orient":"none","legendX":20,"legendY":13,"direction":"vertical","columns":2,"title":null,"symbolType":"M-1,0H3","symbolSize":169,"labelFont":"Liberation Serif","labelFontSize":12.5,"labelOffset":13,"columnPadding":82,"rowPadding":-1.5,"padding":3,"labelExpr":"''","encode":{"symbols":{"update":{"stroke":{"signal":"datum.value=='BO'?'#3a7fc6':(datum.value=='O'||datum.value=='BM')?'transparent':'#000000'"},"strokeWidth":{"signal":"datum.value=='BO'?2.4:1.3"}}}}}},"strokeDash":{"field":"s","type":"nominal","sort":["O","T","W","BO","BT","BM"],"scale":{"range":[[1,0],[1.2,1.6],[5,3],[7,5],[1.2,1.6],[1,0]]},"legend":{"orient":"none","legendX":20,"legendY":13,"direction":"vertical","columns":2,"title":null,"symbolType":"M-1,0H3","symbolSize":169,"labelFont":"Liberation Serif","labelFontSize":12.5,"labelOffset":13,"columnPadding":82,"rowPadding":-1.5,"padding":3,"labelExpr":"''"}}}},
{"transform":[{"filter":"datum.s=='O'&&datum.f==31.5"}],"mark":{"type":"text","text":"a","dx":-33,"align":"left","baseline":"middle","fontSize":13,"font":"Liberation Serif","color":"#1a1a1a"},"encoding":{"y":{"datum":180,"type":"quantitative","scale":{"domain":[56.6,187.2],"nice":false,"zero":false},"axis":{"values":[60,80,100,120,140,160,180],"title":"Lₚ,ₛ, Lₚ,ₙ (dB)"}}}}
]}
]},
{"width":273,"height":206,
"layer":[
{"data":{"values":[{"x1":31.5,"x2":100},{"x1":10000,"x2":16000}]},"mark":{"type":"rect","color":"#dcdcdc"},"encoding":{"x":{"field":"x1","type":"quantitative","scale":{"type":"log","domain":[31.5,16000],"nice":false},"axis":{"orient":"top","values":[31.5,63,125,250,500,1000,2000,4000,8000,16000],"labels":false,"title":null}},"x2":{"field":"x2"}}},
{"transform":[{"filter":"datum.p=='b'"}],
"encoding":{"x":{"field":"f","type":"quantitative","scale":{"type":"log","domain":[31.5,16000],"nice":false},"axis":{"orient":"bottom","values":[31.5,63,125,250,500,1000,2000,4000,8000,16000],"labelFlush":false,"labelExpr":"datum.value==31.5?'\u00a0\u00a0\u00a0\u00a0\u00a0\u00a031.5':datum.value>=1000?format(datum.value/1000,'d')+'k':format(datum.value,'~g')","title":"Frequency (Hz)"}},"y":{"field":"v","type":"quantitative","scale":{"domain":[56.6,187.2],"nice":false,"zero":false},"axis":{"values":[60,80,100,120,140,160,180],"title":"Lₚ,ₛ, Lₚ,ₙ (dB)"}}},
"layer":[
{"transform":[{"filter":"datum.s=='BM'||datum.s=='BO'"}],"mark":{"type":"line","strokeWidth":5},"encoding":{"color":{"field":"s","type":"nominal","legend":null}}},
{"transform":[{"filter":"datum.s=='BT'"}],"mark":{"type":"line","strokeWidth":5,"color":"#c6c6c6"},"encoding":{}},
{"transform":[{"filter":"datum.s=='O'"}],"mark":{"type":"line","strokeWidth":2.2},"encoding":{"color":{"field":"s","type":"nominal","legend":null}}},
{"transform":[{"filter":"datum.s=='T'||datum.s=='W'||datum.s=='BT'"}],"mark":{"type":"line","strokeWidth":2.8},"encoding":{"color":{"field":"s","type":"nominal","legend":null}}},
{"transform":[{"filter":"datum.s=='BO'"}],"mark":{"type":"line","strokeWidth":2.4,"color":"#3a7fc6","strokeDash":[7,5]},"encoding":{}},
{"mark":{"type":"line","strokeWidth":1.3},"encoding":{"stroke":{"field":"s","type":"nominal","sort":["O","T","W","BO","BT","BM"],"legend":null},"strokeDash":{"field":"s","type":"nominal","sort":["O","T","W","BO","BT","BM"],"legend":null}}},
{"transform":[{"filter":"datum.s=='O'&&datum.f==31.5"}],"mark":{"type":"text","text":"b","dx":-33,"align":"left","baseline":"middle","fontSize":13,"font":"Liberation Serif","color":"#1a1a1a"},"encoding":{"y":{"datum":180,"type":"quantitative","scale":{"domain":[56.6,187.2],"nice":false,"zero":false},"axis":{"values":[60,80,100,120,140,160,180],"title":"Lₚ,ₛ, Lₚ,ₙ (dB)"}}}}
]}
]},
{"width":273,"height":206,
"layer":[
{"data":{"values":[{"x1":31.5,"x2":100},{"x1":10000,"x2":16000}]},"mark":{"type":"rect","color":"#dcdcdc"},"encoding":{"x":{"field":"x1","type":"quantitative","scale":{"type":"log","domain":[31.5,16000],"nice":false},"axis":{"orient":"top","values":[31.5,63,125,250,500,1000,2000,4000,8000,16000],"labels":false,"title":null}},"x2":{"field":"x2"}}},
{"transform":[{"filter":"datum.p=='c'"}],
"encoding":{"x":{"field":"f","type":"quantitative","scale":{"type":"log","domain":[31.5,16000],"nice":false},"axis":{"orient":"bottom","values":[31.5,63,125,250,500,1000,2000,4000,8000,16000],"labelFlush":false,"labelExpr":"datum.value==31.5?'\u00a0\u00a0\u00a0\u00a0\u00a0\u00a031.5':datum.value>=1000?format(datum.value/1000,'d')+'k':format(datum.value,'~g')","title":"Frequency (Hz)"}},"y":{"field":"v","type":"quantitative","scale":{"domain":[56.6,187.2],"nice":false,"zero":false},"axis":{"values":[60,80,100,120,140,160,180],"title":"Lₚ,ₛ, Lₚ,ₙ (dB)"}}},
"layer":[
{"transform":[{"filter":"datum.s=='BM'||datum.s=='BO'"}],"mark":{"type":"line","strokeWidth":5},"encoding":{"color":{"field":"s","type":"nominal","legend":null}}},
{"transform":[{"filter":"datum.s=='BT'"}],"mark":{"type":"line","strokeWidth":5,"color":"#c6c6c6"},"encoding":{}},
{"transform":[{"filter":"datum.s=='O'"}],"mark":{"type":"line","strokeWidth":2.2},"encoding":{"color":{"field":"s","type":"nominal","legend":null}}},
{"transform":[{"filter":"datum.s=='T'||datum.s=='W'||datum.s=='BT'"}],"mark":{"type":"line","strokeWidth":2.8},"encoding":{"color":{"field":"s","type":"nominal","legend":null}}},
{"transform":[{"filter":"datum.s=='BO'"}],"mark":{"type":"line","strokeWidth":2.4,"color":"#3a7fc6","strokeDash":[7,5]},"encoding":{}},
{"mark":{"type":"line","strokeWidth":1.3},"encoding":{"stroke":{"field":"s","type":"nominal","sort":["O","T","W","BO","BT","BM"],"legend":null},"strokeDash":{"field":"s","type":"nominal","sort":["O","T","W","BO","BT","BM"],"legend":null}}},
{"transform":[{"filter":"datum.s=='O'&&datum.f==31.5"}],"mark":{"type":"text","text":"c","dx":-33,"align":"left","baseline":"middle","fontSize":12,"font":"Liberation Sans","color":"#1a1a1a"},"encoding":{"y":{"datum":180,"type":"quantitative","scale":{"domain":[56.6,187.2],"nice":false,"zero":false},"axis":{"values":[60,80,100,120,140,160,180],"title":"Lₚ,ₛ, Lₚ,ₙ (dB)"}}}}
]}
]},
{"width":273,"height":206,
"layer":[
{"data":{"values":[{"x1":31.5,"x2":100},{"x1":10000,"x2":16000}]},"mark":{"type":"rect","color":"#dcdcdc"},"encoding":{"x":{"field":"x1","type":"quantitative","scale":{"type":"log","domain":[31.5,16000],"nice":false},"axis":{"orient":"top","values":[31.5,63,125,250,500,1000,2000,4000,8000,16000],"labels":false,"title":null}},"x2":{"field":"x2"}}},
{"transform":[{"filter":"datum.p=='d'"}],
"encoding":{"x":{"field":"f","type":"quantitative","scale":{"type":"log","domain":[31.5,16000],"nice":false},"axis":{"orient":"bottom","values":[31.5,63,125,250,500,1000,2000,4000,8000,16000],"labelFlush":false,"labelExpr":"datum.value==31.5?'\u00a0\u00a0\u00a0\u00a0\u00a0\u00a031.5':datum.value>=1000?format(datum.value/1000,'d')+'k':format(datum.value,'~g')","title":"Frequency (Hz)"}},"y":{"field":"v","type":"quantitative","scale":{"domain":[56.6,187.2],"nice":false,"zero":false},"axis":{"values":[60,80,100,120,140,160,180],"title":"Lₚ,ₛ, Lₚ,ₙ (dB)"}}},
"layer":[
{"transform":[{"filter":"datum.s=='BM'||datum.s=='BO'"}],"mark":{"type":"line","strokeWidth":5},"encoding":{"color":{"field":"s","type":"nominal","legend":null}}},
{"transform":[{"filter":"datum.s=='BT'"}],"mark":{"type":"line","strokeWidth":5,"color":"#c6c6c6"},"encoding":{}},
{"transform":[{"filter":"datum.s=='O'"}],"mark":{"type":"line","strokeWidth":2.2},"encoding":{"color":{"field":"s","type":"nominal","legend":null}}},
{"transform":[{"filter":"datum.s=='T'||datum.s=='W'||datum.s=='BT'"}],"mark":{"type":"line","strokeWidth":2.8},"encoding":{"color":{"field":"s","type":"nominal","legend":null}}},
{"transform":[{"filter":"datum.s=='BO'"}],"mark":{"type":"line","strokeWidth":2.4,"color":"#3a7fc6","strokeDash":[7,5]},"encoding":{}},
{"mark":{"type":"line","strokeWidth":1.3},"encoding":{"stroke":{"field":"s","type":"nominal","sort":["O","T","W","BO","BT","BM"],"legend":null},"strokeDash":{"field":"s","type":"nominal","sort":["O","T","W","BO","BT","BM"],"legend":null}}},
{"transform":[{"filter":"datum.s=='O'&&datum.f==31.5"}],"mark":{"type":"text","text":"d","dx":-33,"align":"left","baseline":"middle","fontSize":13,"font":"Liberation Serif","color":"#1a1a1a"},"encoding":{"y":{"datum":180,"type":"quantitative","scale":{"domain":[56.6,187.2],"nice":false,"zero":false},"axis":{"values":[60,80,100,120,140,160,180],"title":"Lₚ,ₛ, Lₚ,ₙ (dB)"}}}}
]}
]}
]
}
